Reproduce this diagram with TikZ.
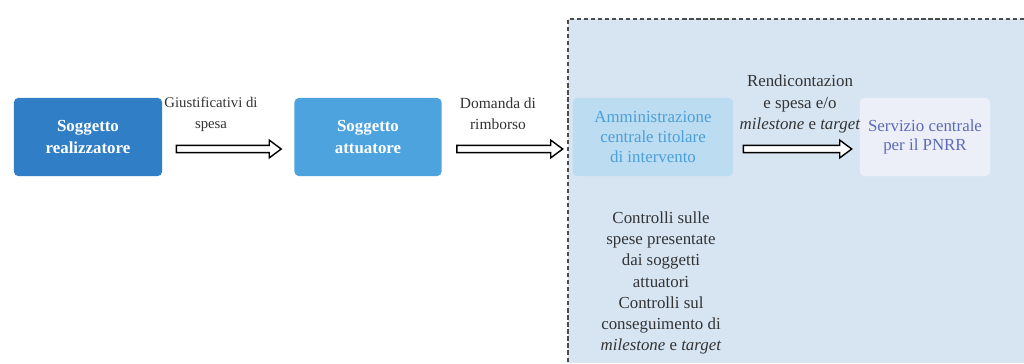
\documentclass[tikz,border=0pt]{standalone}
\usepackage{fontspec}
\setmainfont{Liberation Serif}
\usetikzlibrary{calc, positioning}

\definecolor{realblu}{HTML}{2F7EC6}
\definecolor{attblu}{HTML}{4DA3DE}
\definecolor{ammfill}{HTML}{BCDCF1}
\definecolor{ammtext}{HTML}{4B9FDA}
\definecolor{servfill}{HTML}{EDEFF8}
\definecolor{servtext}{HTML}{5C6BB8}
\definecolor{areafill}{HTML}{D7E5F3}

\begin{document}
\begin{tikzpicture}[x=0.025cm, y=0.025cm,
    attore/.style={rounded corners=3pt, minimum height=1.95cm, align=center,
        inner sep=2pt, font=\fontsize{12}{14}\selectfont},
    freccia/.style={draw=black, fill=white, line width=1pt, line join=miter,
        to path={let \p1=(\tikztostart), \p2=(\tikztotarget) in
            (\x1,{\y1+2.6pt}) -- ({\x2-8.5pt},{\y1+2.6pt}) -- ({\x2-8.5pt},{\y1+6.3pt})
            -- (\x2,\y1) -- ({\x2-8.5pt},{\y1-6.3pt}) -- ({\x2-8.5pt},{\y1-2.6pt})
            -- (\x1,{\y1-2.6pt}) -- cycle}},
    lbl/.style={align=center, text=black!80, font=\fontsize{12}{15}\selectfont}
]
\useasboundingbox (0,0) rectangle (1024,363);

% area amministrazione centrale
\fill[areafill] (568,0) rectangle (1024,344);
\draw[black!70, line width=0.8pt, dash pattern=on 3pt off 2pt] (1024,344) -- (568,344) -- (568,0);

% soggetti
\node[attore, fill=realblu, text=white, minimum width=3.7cm, font=\bfseries\fontsize{12}{15}\selectfont]
    (real) at (88,226) {Soggetto\\realizzatore};
\node[attore, fill=attblu, text=white, minimum width=3.675cm, font=\bfseries\fontsize{12}{15}\selectfont]
    (att) at (368,226) {Soggetto\\attuatore};
\node[attore, fill=ammfill, text=ammtext, minimum width=4cm]
    (amm) at (653,226) {Amministrazione\\centrale titolare\\di intervento};
\node[attore, fill=servfill, text=servtext, minimum width=3.25cm]
    (serv) at (925,226) {Servizio centrale\\per il PNRR};

% flussi
\draw[freccia] ([shift={(14,-12)}]real.east) to ([shift={(-13,-12)}]att.west);
\draw[freccia] ([shift={(15,-12)}]att.east) to ([shift={(-10,-12)}]amm.west);
\draw[freccia] ([shift={(10,-12)}]amm.east) to ([shift={(-8,-12)}]serv.west);

% etichette
\node[lbl, font=\fontsize{10.5}{15}\selectfont] (giust) at (211,249) {Giustificativi di\\spesa};
\node[lbl, font=\fontsize{11}{15}\selectfont] (dom) at (498,249) {Domanda di\\rimborso};
\node[lbl] (rend) at (800,259) {Rendicontazion\\e spesa e/o\\\textit{milestone} e \textit{target}};

% controlli
\node[lbl] (contr) at (661,80) {Controlli sulle\\spese presentate\\dai soggetti\\attuatori\\Controlli sul\\conseguimento di\\\textit{milestone} e \textit{target}};
\end{tikzpicture}
\end{document}
